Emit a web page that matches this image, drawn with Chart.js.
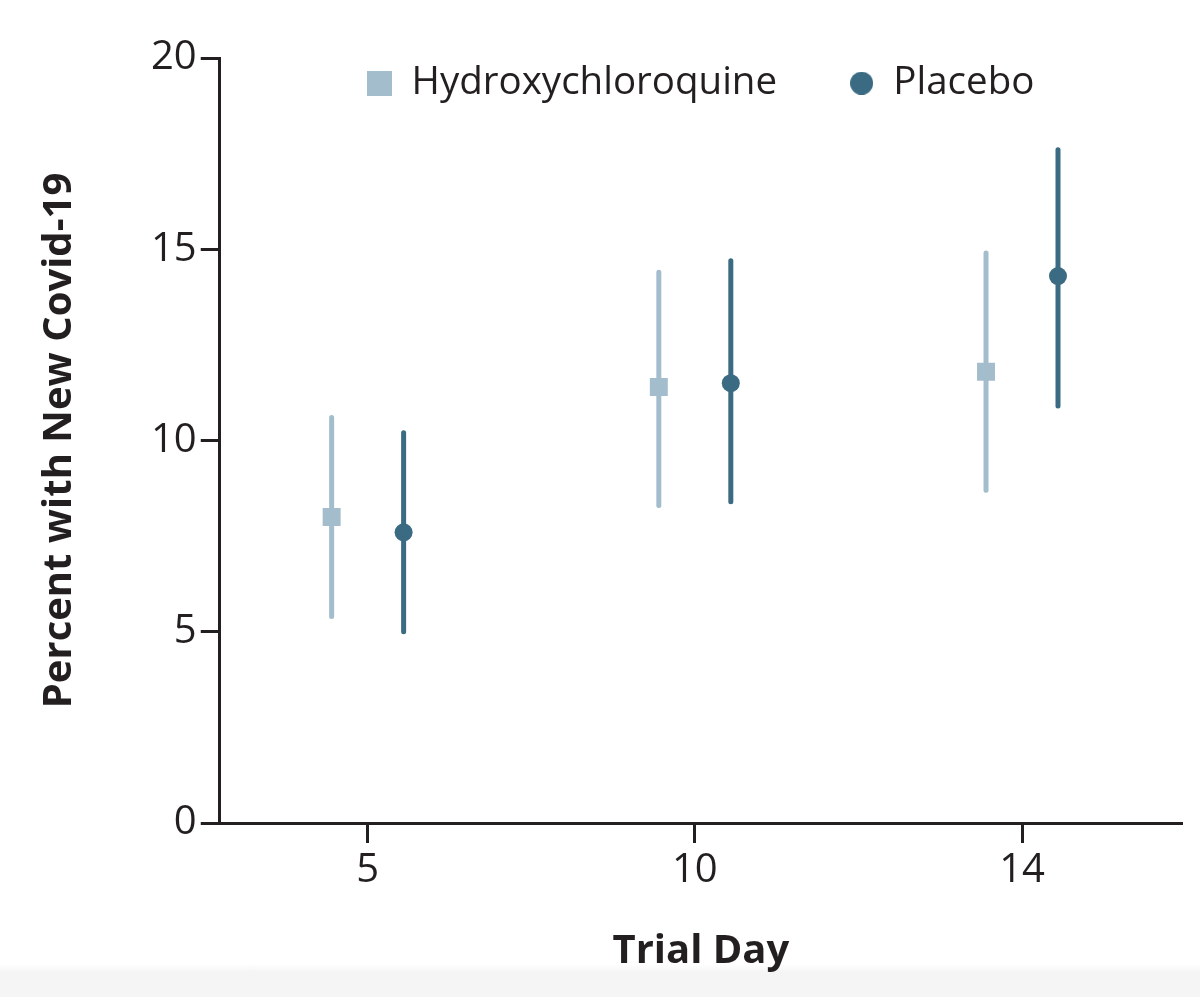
<!DOCTYPE html>
<html><head><meta charset="utf-8">
<script src="https://cdn.jsdelivr.net/npm/chart.js@4.4.1/dist/chart.umd.min.js"></script>
<style>
html,body{margin:0;padding:0;}
body{background:linear-gradient(to bottom,#ffffff 0px,#ffffff 964px,#f5f5f5 972px,#f5f5f5 997px);}
#wrap{width:1200px;height:997px;position:relative;}
</style></head><body>
<div id="wrap"><canvas id="c" width="1200" height="997"></canvas></div>
<script>
// ---- data ----
const trialDays = ['5', '10', '14'];
const seriesNames = ['Hydroxychloroquine', 'Placebo'];
const hcqPct = [8.0, 11.4, 11.8];
const hcqLow = [5.4, 8.3, 8.7];
const hcqHigh = [10.6, 14.4, 14.9];
const placeboPct = [7.6, 11.5, 14.3];
const placeboLow = [5.0, 8.4, 10.9];
const placeboHigh = [10.2, 14.7, 17.6];
const yTicks = [0, 5, 10, 15, 20];

// ---- style ----
const ink = '#231f20';
const hcqColor = '#a3bdcc';
const placeboColor = '#3a6b82';
const FONT = '"Open Sans"';
const dodge = 0.11;
const LEG_PAD = 72;

function markerCanvas(kind, color, size) {
  const c = document.createElement('canvas');
  c.width = size; c.height = size;
  const g = c.getContext('2d');
  g.fillStyle = color;
  if (kind === 'rect') { g.fillRect(0, 0, size, size); }
  else { g.beginPath(); g.arc(size / 2, size / 2, size / 2, 0, Math.PI * 2); g.fill(); }
  return c;
}
const legendMarkers = [markerCanvas('rect', hcqColor, 25), markerCanvas('circle', placeboColor, 23)];

const errorBars = {
  id: 'errorBars',
  beforeDatasetsDraw(chart) {
    const ctx = chart.ctx, ys = chart.scales.y;
    chart.data.datasets.forEach((ds, i) => {
      const meta = chart.getDatasetMeta(i);
      ctx.save();
      ctx.strokeStyle = ds.backgroundColor;
      ctx.lineWidth = 5;
      ctx.lineCap = 'round';
      meta.data.forEach((pt, j) => {
        ctx.beginPath();
        ctx.moveTo(pt.x, ys.getPixelForValue(ds.errLow[j]));
        ctx.lineTo(pt.x, ys.getPixelForValue(ds.errHigh[j]));
        ctx.stroke();
      });
      ctx.restore();
    });
  }
};

// legend floats inside the plot area (takes no layout space)
const legendFloat = {
  id: 'legendFloat',
  beforeUpdate(chart) {
    const lg = chart.legend;
    if (lg && !lg._floatPatched) {
      const orig = lg.fit;
      lg.fit = function () { orig.call(this); this.height = 0; };
      lg._floatPatched = true;
    }
  },
  afterLayout(chart) {
    const lg = chart.legend, ca = chart.chartArea;
    if (!lg) return;
    lg.left = ca.left; lg.right = ca.right; lg.width = lg.right - lg.left;
    lg.top = ca.top + 6 - LEG_PAD; lg.bottom = ca.bottom; lg.height = lg.bottom - lg.top;
  }
};

new Chart(document.getElementById('c'), {
  type: 'scatter',
  data: {
    datasets: [
      {
        label: seriesNames[0],
        data: trialDays.map((d, i) => ({ x: i - dodge, y: hcqPct[i] })),
        errLow: hcqLow, errHigh: hcqHigh,
        backgroundColor: hcqColor, borderWidth: 0,
        pointStyle: 'rect', pointRadius: 12.7, pointHoverRadius: 12.7
      },
      {
        label: seriesNames[1],
        data: trialDays.map((d, i) => ({ x: i + dodge, y: placeboPct[i] })),
        errLow: placeboLow, errHigh: placeboHigh,
        backgroundColor: placeboColor, borderWidth: 0,
        pointStyle: 'circle', pointRadius: 9, pointHoverRadius: 9
      }
    ]
  },
  options: {
    responsive: false,
    animation: false,
    events: [],
    layout: { padding: { left: 36, right: 18, top: 58, bottom: 21 } },
    plugins: {
      tooltip: { enabled: false },
      legend: {
        position: 'top',
        align: 'center',
        labels: {
          usePointStyle: true,
          boxWidth: 25, boxHeight: 25,
          padding: LEG_PAD,
          color: ink,
          font: { family: FONT, size: 38.5 },
          generateLabels(chart) {
            return chart.data.datasets.map((ds, i) => ({
              text: ds.label, pointStyle: legendMarkers[i], fillStyle: ds.backgroundColor,
              strokeStyle: ds.backgroundColor, lineWidth: 0, hidden: false, datasetIndex: i, fontColor: ink
            }));
          }
        }
      }
    },
    scales: {
      x: {
        type: 'linear',
        min: -0.452, max: 2.489,
        afterBuildTicks(s) { s.ticks = trialDays.map((d, i) => ({ value: i })); },
        ticks: {
          callback: (v) => trialDays[Math.round(v)],
          color: ink, font: { family: FONT, size: 40 }, padding: 4, maxRotation: 0
        },
        grid: { drawOnChartArea: false, drawTicks: true, tickLength: 20, tickWidth: 3, tickColor: ink },
        border: { display: true, color: ink, width: 3 },
        title: { display: true, text: 'Trial Day', color: ink, font: { family: FONT, size: 40, weight: 'bold' }, padding: { top: 29, bottom: 0 } }
      },
      y: {
        min: 0, max: 20,
        afterBuildTicks(s) { s.ticks = yTicks.map(v => ({ value: v })); },
        ticks: { color: ink, font: { family: FONT, size: 40 }, padding: 4 },
        grid: { drawOnChartArea: false, drawTicks: true, tickLength: 19, tickWidth: 3, tickColor: ink },
        border: { display: true, color: ink, width: 3 },
        title: { display: true, text: 'Percent with New Covid-19', color: ink, font: { family: FONT, size: 40, weight: 'bold' }, padding: { top: 0, bottom: 63 } }
      }
    }
  },
  plugins: [errorBars, legendFloat]
});
</script>
</body></html>
